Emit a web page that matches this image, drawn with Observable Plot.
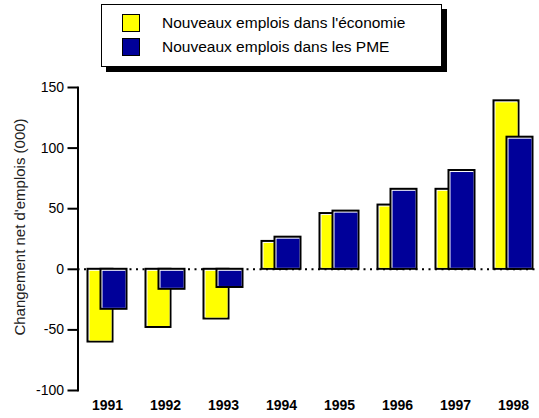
<!DOCTYPE html>
<html>
<head>
<meta charset="utf-8">
<script src="https://cdn.jsdelivr.net/npm/d3@7"></script>
<script src="https://cdn.jsdelivr.net/npm/@observablehq/plot@0.6"></script>
<style>
  body { margin: 0; background: #fff; font-family: "Liberation Sans", Arial, sans-serif; }
  #wrap { width: 539px; }
  #legend { position: relative; width: 539px; height: 75px; }
  #legend .box { position: absolute; left: 101px; top: 4px; width: 339px; height: 61px; border: 1px solid #000; box-shadow: 5px 5px 0 #000; background: #fff; }
  #legend .sw { position: absolute; left: 122px; width: 16px; height: 16px; border: 1.5px solid #000; }
  #legend .lab { position: absolute; left: 162px; font-size: 15.5px; color: #000; line-height: 18px; white-space: nowrap; }
</style>
</head>
<body>
<div id="wrap">
  <div id="legend">
    <div class="box"></div>
    <div class="sw" id="sw0" style="top:14px"></div>
    <div class="lab" id="lab0" style="top:14px"></div>
    <div class="sw" id="sw1" style="top:38px"></div>
    <div class="lab" id="lab1" style="top:38px"></div>
  </div>
  <div id="chart"></div>
</div>
<script>
const years = ["1991", "1992", "1993", "1994", "1995", "1996", "1997", "1998"];
const economie = [-60, -48, -41, 23, 46, 53, 66, 139];
const pme = [-33, -16.5, -15, 26.5, 48, 66, 81.5, 109];
const seriesNames = ["Nouveaux emplois dans l'économie", "Nouveaux emplois dans les PME"];
const seriesColors = ["#ffff00", "#000099"];
const yTicks = [-100, -50, 0, 50, 100, 150];
const yLabel = "Changement net d'emplois (000)";

document.getElementById("sw0").style.background = seriesColors[0];
document.getElementById("sw1").style.background = seriesColors[1];
document.getElementById("lab0").textContent = seriesNames[0];
document.getElementById("lab1").textContent = seriesNames[1];

const dataE = years.map((y, i) => ({year: y, value: economie[i]}));
const dataP = years.map((y, i) => ({year: y, value: pme[i]}));

function bar(data, color, left, right) {
  return [
    Plot.barY(data, {x: "year", y: "value", fill: "#fff", stroke: "#000", strokeWidth: 2, insetLeft: left, insetRight: right}),
    Plot.barY(data, {x: "year", y: "value", fill: color, insetLeft: left + 2, insetRight: right + 1, insetTop: 2, insetBottom: 1})
  ];
}

const chart = Plot.plot({
  width: 539,
  height: 343,
  marginLeft: 77.5,
  marginRight: -3,
  marginTop: 12,
  marginBottom: 28,
  style: {fontFamily: "'Liberation Sans', Arial, sans-serif", background: "#fff", overflow: "visible"},
  x: {type: "band", domain: years, padding: 0},
  y: {domain: [-100, 150]},
  marks: [
    Plot.ruleY([0], {stroke: "#000", strokeWidth: 2, strokeDasharray: "2,4.5"}),
    ...bar(dataE, seriesColors[0], 9.5, 23.5),
    ...bar(dataP, seriesColors[1], 22.5, 9.5),
    Plot.frame({anchor: "left", stroke: "#000", strokeWidth: 2}),
    Plot.axisY(yTicks, {tickSize: 10, tickPadding: 4, fontSize: 14, strokeWidth: 2, tickFormat: d => String(d), label: null}),
    Plot.axisX(years, {tickSize: 0, tickPadding: 10, fontSize: 14, fontWeight: "bold", label: null}),
    Plot.text([yLabel], {frameAnchor: "left", textAnchor: "middle", rotate: -90, dx: -58, dy: -12, fontSize: 15, fill: "#222"})
  ]
});
document.getElementById("chart").appendChild(chart);
</script>
</body>
</html>
